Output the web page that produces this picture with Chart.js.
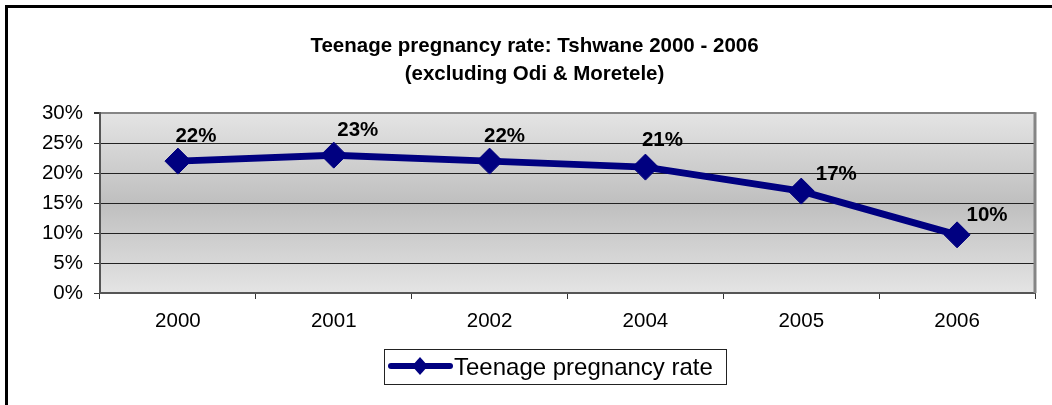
<!DOCTYPE html>
<html>
<head>
<meta charset="utf-8">
<script src="https://cdn.jsdelivr.net/npm/chart.js@4.4.1/dist/chart.umd.min.js"></script>
<style>
    body { margin: 0; background: #fff; overflow: hidden; }
    #marco {
        position: absolute; left: 5px; top: 5px; width: 2000px; height: 2000px;
        border-left: 3px solid #000; border-top: 3px solid #000;
    }
    #grafico { position: absolute; left: 0; top: 0; }
</style>
</head>
<body>
<div id="marco"></div>
<canvas id="grafico" width="1052" height="405"></canvas>
<script>
// Datos del gráfico
const anios = ["2000", "2001", "2002", "2004", "2005", "2006"];
const tasas = [22, 23, 22, 21, 17, 9.7];
const nombreSerie = "Teenage pregnancy rate";
const titulo = ["Teenage pregnancy rate: Tshwane 2000 - 2006", "(excluding Odi & Moretele)"];

// Desplazamiento de cada etiqueta respecto a su punto (colocadas a mano en el original)
const desplazEtiquetas = [[18, -25], [24, -25], [15, -25], [17, -27], [35, -17], [30, -20]];

const fuente = "Arial, 'Liberation Sans', sans-serif";
const azul = "#000080";

// Fondo degradado del área del gráfico
const fondoPlugin = {
    id: "fondo",
    beforeDraw(chart) {
        const { ctx, chartArea: a } = chart;
        const g = ctx.createLinearGradient(0, a.top, 0, a.bottom);
        g.addColorStop(0, "#e4e4e4");
        g.addColorStop(0.5, "#bfbfbf");
        g.addColorStop(1, "#e4e4e4");
        ctx.save();
        ctx.fillStyle = g;
        ctx.fillRect(a.left, a.top, a.right - a.left, a.bottom - a.top);
        ctx.restore();
    },
    afterDraw(chart) {
        // borde derecho gris
        const { ctx, chartArea: a } = chart;
        ctx.save();
        ctx.strokeStyle = "#858585";
        ctx.lineWidth = 3;
        ctx.beginPath();
        ctx.moveTo(a.right, a.top - 1);
        ctx.lineTo(a.right, a.bottom);
        ctx.stroke();
        ctx.restore();
    }
};

// Etiquetas de porcentaje sobre cada punto
const etiquetasPlugin = {
    id: "etiquetas",
    afterDatasetsDraw(chart) {
        const { ctx } = chart;
        const meta = chart.getDatasetMeta(0);
        ctx.save();
        ctx.font = "bold 20.5px " + fuente;
        ctx.fillStyle = "#000";
        ctx.textAlign = "center";
        ctx.textBaseline = "middle";
        meta.data.forEach((p, i) => {
            const d = desplazEtiquetas[i];
            ctx.fillText(Math.round(tasas[i]) + "%", p.x + d[0], p.y + d[1]);
        });
        ctx.restore();
    }
};

// Leyenda con recuadro, línea y rombo
const leyendaPlugin = {
    id: "leyendaCaja",
    afterDraw(chart) {
        const { ctx } = chart;
        const x = 384, y = 349, w = 342, h = 35;
        ctx.save();
        ctx.strokeStyle = "#222";
        ctx.lineWidth = 1;
        ctx.strokeRect(x + 0.5, y + 0.5, w, h);

        const ly = y + 17;
        ctx.strokeStyle = azul;
        ctx.lineWidth = 6;
        ctx.lineCap = "round";
        ctx.beginPath();
        ctx.moveTo(x + 7, ly);
        ctx.lineTo(x + 66, ly);
        ctx.stroke();

        ctx.fillStyle = azul;
        ctx.beginPath();
        ctx.moveTo(x + 36, ly - 9);
        ctx.lineTo(x + 44, ly);
        ctx.lineTo(x + 36, ly + 9);
        ctx.lineTo(x + 28, ly);
        ctx.closePath();
        ctx.fill();

        ctx.fillStyle = "#000";
        ctx.font = "24px " + fuente;
        ctx.textAlign = "left";
        ctx.textBaseline = "alphabetic";
        ctx.fillText(nombreSerie, x + 70, y + 26);
        ctx.restore();
    }
};

new Chart(document.getElementById("grafico"), {
    type: "line",
    data: {
        labels: anios,
        datasets: [{
            label: nombreSerie,
            data: tasas,
            borderColor: azul,
            backgroundColor: azul,
            borderWidth: 7,
            pointStyle: "rectRot",
            pointRadius: 13,
            pointBorderWidth: 1,
            pointBackgroundColor: azul,
            pointBorderColor: azul,
            tension: 0
        }]
    },
    options: {
        responsive: false,
        animation: false,
        events: [],
        layout: { padding: { left: 34, right: 17, top: 0, bottom: 62 } },
        plugins: {
            legend: { display: false },
            tooltip: { enabled: false },
            title: {
                display: true,
                text: titulo,
                color: "#000",
                font: { family: fuente, size: 20.5, weight: "bold", lineHeight: 1.37 },
                padding: { top: 32, bottom: 25 }
            }
        },
        scales: {
            x: {
                offset: true,
                grid: {
                    offset: true,
                    drawOnChartArea: false,
                    drawTicks: true,
                    tickLength: 6,
                    tickColor: "#333"
                },
                border: { color: "#555", width: 2 },
                ticks: {
                    color: "#000",
                    padding: 10,
                    maxRotation: 0,
                    font: { family: fuente, size: 20.5 }
                },
                afterFit(scale) { scale.height = 50; }
            },
            y: {
                min: 0,
                max: 30,
                grid: {
                    color: c => c.tick && c.tick.value >= 30 ? "#858585" : "#222",
                    lineWidth: c => c.tick && c.tick.value >= 30 ? 2 : 1,
                    drawTicks: true,
                    tickLength: 6,
                    tickColor: "#333"
                },
                border: { color: "#555", width: 2 },
                ticks: {
                    stepSize: 5,
                    color: "#000",
                    padding: 11,
                    font: { family: fuente, size: 20.5 },
                    callback: v => v + "%"
                },
                afterFit(scale) { scale.width = 66; }
            }
        }
    },
    plugins: [fondoPlugin, etiquetasPlugin, leyendaPlugin]
});
</script>
</body>
</html>
